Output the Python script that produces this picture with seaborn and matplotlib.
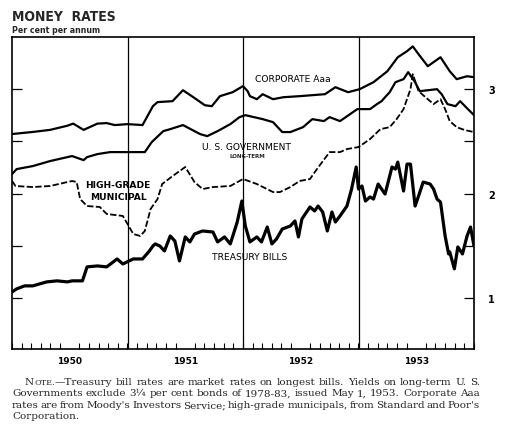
import numpy as np
import pandas as pd
import seaborn as sns
import matplotlib.pyplot as plt
from matplotlib.ticker import FixedLocator, FuncFormatter

# Money rates, per cent per annum (decimal years)
corp_t = [1950.00, 1950.18, 1950.33, 1950.48, 1950.53, 1950.62, 1950.74, 1950.82, 1950.89,
          1951.00, 1951.13, 1951.22, 1951.26, 1951.39, 1951.48, 1951.57, 1951.67, 1951.73,
          1951.80, 1951.91, 1952.00, 1952.04, 1952.06, 1952.12, 1952.17, 1952.26, 1952.35,
          1952.49, 1952.71, 1952.80, 1952.91, 1953.01, 1953.13, 1953.25, 1953.34, 1953.42,
          1953.47, 1953.52, 1953.60, 1953.71, 1953.79, 1953.85, 1953.94, 1954.00]
corp_v = [2.57, 2.59, 2.61, 2.65, 2.67, 2.61, 2.67, 2.675, 2.656,
          2.665, 2.656, 2.837, 2.876, 2.885, 2.99, 2.923, 2.846, 2.837,
          2.933, 2.971, 3.029, 2.981, 2.933, 2.904, 2.952, 2.904, 2.923,
          2.933, 2.952, 3.019, 2.971, 3.00, 3.067, 3.172, 3.306, 3.364,
          3.41, 3.335, 3.22, 3.306, 3.172, 3.096, 3.124, 3.115]

gov_t = [1950.00, 1950.04, 1950.18, 1950.33, 1950.48, 1950.52, 1950.62, 1950.65, 1950.74,
         1950.85, 1951.00, 1951.15, 1951.21, 1951.31, 1951.37, 1951.48, 1951.63, 1951.69,
         1951.78, 1951.89, 1951.97, 1952.02, 1952.17, 1952.26, 1952.34, 1952.41, 1952.52,
         1952.60, 1952.70, 1952.75, 1952.84, 1952.99, 1953.10, 1953.16, 1953.20, 1953.23,
         1953.27, 1953.32, 1953.39, 1953.43, 1953.49, 1953.53, 1953.68, 1953.72, 1953.77,
         1953.84, 1953.88, 1953.93, 1954.00]
gov_v = [2.186, 2.234, 2.263, 2.311, 2.349, 2.359, 2.32, 2.349, 2.378,
         2.397, 2.397, 2.397, 2.493, 2.598, 2.617, 2.656, 2.569, 2.55,
         2.598, 2.665, 2.732, 2.751, 2.713, 2.684, 2.589, 2.589, 2.636,
         2.713, 2.694, 2.732, 2.694, 2.809, 2.809, 2.857, 2.885, 2.923,
         2.971, 3.067, 3.096, 3.163, 3.067, 2.981, 3.00, 2.952, 2.857,
         2.837, 2.885, 2.828, 2.751]

muni_t = [1950.00, 1950.03, 1950.18, 1950.33, 1950.48, 1950.52, 1950.56, 1950.59, 1950.65,
          1950.76, 1950.82, 1950.96, 1951.00, 1951.05, 1951.11, 1951.15, 1951.20, 1951.26,
          1951.30, 1951.39, 1951.50, 1951.58, 1951.65, 1951.74, 1951.89, 1952.00, 1952.12,
          1952.26, 1952.32, 1952.41, 1952.49, 1952.58, 1952.64, 1952.75, 1952.84, 1952.90,
          1953.00, 1953.10, 1953.19, 1953.27, 1953.33, 1953.39, 1953.45, 1953.47, 1953.52,
          1953.58, 1953.65, 1953.71, 1953.75, 1953.79, 1953.85, 1953.92, 1954.00]
muni_v = [2.12, 2.072, 2.062, 2.072, 2.11, 2.12, 2.11, 1.947, 1.88,
          1.871, 1.804, 1.785, 1.708, 1.612, 1.593, 1.641, 1.852, 1.947,
          2.091, 2.167, 2.254, 2.11, 2.043, 2.062, 2.072, 2.139, 2.091,
          2.014, 2.014, 2.062, 2.12, 2.139, 2.234, 2.397, 2.397, 2.426,
          2.445, 2.522, 2.617, 2.636, 2.713, 2.809, 3.00, 3.144, 2.981,
          2.923, 2.857, 2.904, 2.809, 2.694, 2.636, 2.608, 2.589]

tb_t = [1950.00, 1950.04, 1950.11, 1950.18, 1950.30, 1950.39, 1950.48, 1950.52, 1950.61,
        1950.65, 1950.74, 1950.82, 1950.91, 1950.96, 1951.05, 1951.13, 1951.19, 1951.22,
        1951.24, 1951.28, 1951.32, 1951.37, 1951.41, 1951.45, 1951.50, 1951.54, 1951.58,
        1951.65, 1951.74, 1951.78, 1951.84, 1951.89, 1951.95, 1951.99, 1952.02, 1952.06,
        1952.12, 1952.16, 1952.21, 1952.25, 1952.29, 1952.34, 1952.41, 1952.45, 1952.48,
        1952.51, 1952.58, 1952.62, 1952.65, 1952.69, 1952.73, 1952.77, 1952.80, 1952.84,
        1952.90, 1952.94, 1952.98, 1953.00, 1953.03, 1953.06, 1953.10, 1953.13, 1953.17,
        1953.23, 1953.29, 1953.32, 1953.34, 1953.39, 1953.42, 1953.45, 1953.49, 1953.52,
        1953.56, 1953.62, 1953.65, 1953.68, 1953.71, 1953.75, 1953.78, 1953.79, 1953.83,
        1953.86, 1953.90, 1953.94, 1953.97, 1954.00]
tb_v = [1.057, 1.086, 1.115, 1.115, 1.153, 1.163, 1.153, 1.163, 1.163,
        1.297, 1.306, 1.297, 1.373, 1.325, 1.373, 1.373, 1.45, 1.497,
        1.517, 1.497, 1.45, 1.593, 1.545, 1.354, 1.584, 1.536, 1.612,
        1.641, 1.631, 1.536, 1.584, 1.517, 1.727, 1.928, 1.689, 1.536,
        1.584, 1.536, 1.679, 1.517, 1.564, 1.66, 1.689, 1.737, 1.584,
        1.756, 1.871, 1.833, 1.88, 1.823, 1.641, 1.823, 1.727, 1.785,
        1.88, 2.043, 2.254, 2.043, 2.072, 1.928, 1.967, 1.947, 2.091,
        1.995, 2.254, 2.234, 2.301, 2.024, 2.282, 2.282, 1.88, 1.976,
        2.11, 2.091, 2.043, 1.947, 1.918, 1.593, 1.421, 1.44, 1.278,
        1.488, 1.421, 1.593, 1.679, 1.497]

year_labels = ["1950", "1951", "1952", "1953"]

note_text = [
    "Treasury bill rates are market rates on longest bills.  Yields on long-term U. S.",
    "Governments exclude 3\u00bc per cent bonds of 1978-83, issued May 1, 1953.  Corporate Aaa",
    "rates are from Moody's Investors Service; high-grade municipals, from Standard and Poor's",
    "Corporation.",
]

sns.set_theme(style="white")
plt.rcParams['font.family'] = ['DejaVu Sans']

W, H = 505, 427
fig = plt.figure(figsize=(W / 100, H / 100), dpi=100)
ax = fig.add_axes([12 / W, 1 - 350 / H, 462 / W, 312 / H])

sns.lineplot(x=corp_t, y=corp_v, ax=ax, color='black', lw=1.6, estimator=None, sort=False)
sns.lineplot(x=gov_t, y=gov_v, ax=ax, color='black', lw=1.6, estimator=None, sort=False)
sns.lineplot(x=muni_t, y=muni_v, ax=ax, color='black', lw=1.3, estimator=None, sort=False)
ax.lines[-1].set_dashes([3.5, 1.3])
sns.lineplot(x=tb_t, y=tb_v, ax=ax, color='black', lw=2.3, estimator=None, sort=False)

for yr in [1951, 1952, 1953]:
    ax.axvline(yr, color='black', lw=0.9)

ax.set_xlim(1950, 1954)
ax.set_ylim(0.51, 3.5)
for s in ax.spines.values():
    s.set_color('black')
    s.set_linewidth(1.2)

# x axis: year labels centred, month ticks inward
ax.xaxis.set_major_locator(FixedLocator([1950.5, 1951.5, 1952.5, 1953.5]))
ax.set_xticklabels(year_labels, fontsize=6.5, fontweight='bold')
ax.xaxis.set_minor_locator(FixedLocator(np.arange(1950, 1954.001, 1 / 12)))
ax.tick_params(axis='x', which='major', length=0, pad=5, colors='black')
ax.tick_params(axis='x', which='minor', bottom=True, direction='in', length=4, width=0.8,
               color='black')

# y axis: ticks on both sides, labels at whole per cent on the right
ax.yaxis.set_major_locator(FixedLocator([1, 1.5, 2, 2.5, 3]))
ax.yaxis.set_major_formatter(FuncFormatter(lambda v, p: f"{v:.0f}" if v == int(v) else ""))
ax.tick_params(axis='y', which='major', left=True, right=True, labelleft=False,
               labelright=True, direction='in', length=7, width=0.9, pad=10,
               labelsize=7, colors='black')
for lab in ax.get_yticklabels():
    lab.set_fontweight('bold')
ax.set_xlabel('')
ax.set_ylabel('')

lab_kw = dict(ha='center', va='center', fontsize=6.6, color='black')
ax.text(1952.43, 3.10, "CORPORATE Aaa", **lab_kw)
ax.text(1952.03, 2.455, "U. S. GOVERNMENT", **lab_kw)
ax.text(1952.04, 2.36, "LONG-TERM", ha='center', va='center', fontsize=4, fontweight='bold')
ax.text(1950.92, 2.09, "HIGH-GRADE", fontweight='bold', **lab_kw)
ax.text(1950.92, 1.976, "MUNICIPAL", fontweight='bold', **lab_kw)
ax.text(1952.06, 1.40, "TREASURY BILLS", **lab_kw)

fig.text(12 / W, 1 - 21 / H, "MONEY  RATES", fontsize=10, fontweight='heavy',
         fontstretch='condensed', va='baseline')
fig.text(12 / W, 1 - 33 / H, "Per cent per annum", fontsize=5.7, fontweight='bold',
         va='baseline')

# note under the chart, justified like the printed page
serif = 'DejaVu Serif'
fs = 7.5
r = fig.canvas.get_renderer()


def width_of(s, size):
    t = fig.text(0, 0, s, fontsize=size, family=serif)
    w = t.get_window_extent(r).width
    t.remove()
    return w


def place_line(tokens, x0, x1, y, justify=True):
    widths = [sum(width_of(s, size) for s, size in tok) for tok in tokens]
    if justify:
        gap = (x1 - x0 - sum(widths)) / (len(tokens) - 1)
    else:
        gap = fs * 0.3 * 100 / 72
    x = x0
    for tok, w in zip(tokens, widths):
        for s, size in tok:
            fig.text(x / W, 1 - y / H, s, fontsize=size, family=serif, va='baseline')
            x += width_of(s, size)
        x += gap


baselines = [385, 396.5, 408, 419.5]
for i, line in enumerate(note_text):
    tokens = [[(w, fs)] for w in line.split()]
    if i == 0:
        tokens[0] = [("N", fs), ("OTE.", fs * 0.78), ("\u2014" + tokens[0][0][0], fs)]
    place_line(tokens, 25 if i == 0 else 12, 480, baselines[i], justify=(i < 3))

fig.savefig("out.png", dpi=100)
